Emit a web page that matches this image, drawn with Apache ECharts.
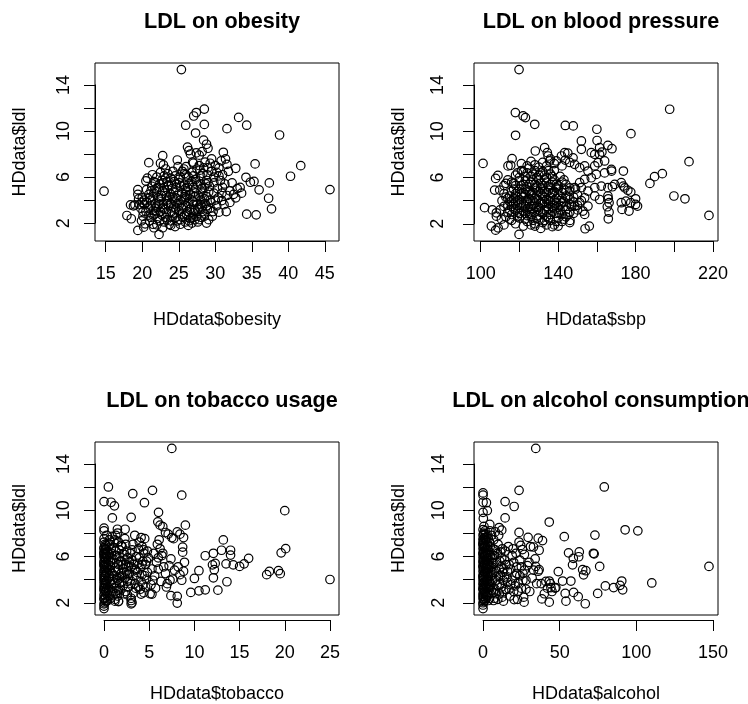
<!DOCTYPE html>
<html>
<head>
<meta charset="utf-8">
<script src="https://cdn.jsdelivr.net/npm/echarts@6/dist/echarts.min.js"></script>
<style>
  html, body { margin: 0; padding: 0; background: #fff; }
  #chart { width: 748px; height: 704px; }
</style>
</head>
<body>
<div id="chart"></div>
<script>
// points: [x, ldl]
var obesityPts = [
  [25.36,15.33],[14.77,4.77],[28.5,11.9],[27.4,11.6],[27.05,11.3],[25.95,10.5],[28.5,10.57],[33.2,11.18],[31.6,10.2],[34.3,10.5],
  [27.3,9.82],[38.8,9.65],[28.4,9.2],[28.8,8.85],[29.0,8.5],[26.2,8.6],[26.4,8.3],[26.6,8.0],[20.9,7.25],[22.8,7.86],
  [22.5,7.2],[22.9,7.05],[23.2,6.7],[35.45,7.14],[32.8,6.76],[41.7,6.99],[40.3,6.07],[45.7,4.91],[37.4,5.49],[36.0,4.89],
  [37.3,4.16],[37.7,3.24],[34.3,2.78],[35.6,2.72],[34.8,5.55],[34.2,5.98],[35.3,5.62],
  [17.9,2.66],[18.5,2.38],[18.4,3.59],[19.0,3.59],[19.4,4.9],[19.4,4.5],[19.5,4.1],[19.4,1.37],[20.2,1.65],
  [20.4,1.94],[22.3,1.02],[22.0,1.86],[23.9,1.8],[25.2,1.9],[27.2,2.3],[28.8,2.0],[29.1,2.3],[18.8,3.5],[19.8,3.3],
  [20.5,3.0],[20.1,2.6],[21.0,2.2],[21.5,1.9],[22.8,1.6],[24.5,1.7],[19.9,2.2],[20.3,3.6],[20.0,4.2],[21.6,1.6],
  [23.7,1.9],[26.3,1.8],[27.6,2.1],
  [20.7,5.9],[20.5,5.66],[21.4,6.2],[22.0,6.0],[23.5,6.3],[24.8,7.48],[24.9,6.9],[25.7,6.7],[26.0,6.2],[25.2,6.0],
  [24.2,6.5],[23.0,6.1],[21.8,5.5],[27.0,7.2],[27.8,7.0],[27.4,8.1],[27.8,7.9],[28.2,8.2],
  [29.5,7.57],[31.1,8.15],[31.4,7.57],[31.6,7.1],[30.2,6.4],[29.8,6.0],[30.7,5.7],[32.3,5.5],[32.0,4.8],[32.5,4.5],
  [33.0,5.0],[33.4,5.1],[31.6,4.4],[30.9,3.96],[30.2,3.5],[30.5,2.95],[31.5,3.0],[29.5,6.5],[30.5,6.8],[31.0,6.2],
  [29.2,5.2],[29.8,4.6],[30.4,4.2],[29.4,3.8],[28.9,3.2],[28.5,2.8],[29.6,2.6],[31.0,5.1],[32.8,4.2],[33.6,4.6],
  [32.0,3.8],[28.6,7.3],[29.0,6.8],[28.3,6.3],[31.8,6.5],[30.8,7.4],
  [21.2,2.5],[22.1,2.4],[22.7,2.7],[23.4,2.3],[24.1,2.6],[24.8,2.2],[25.5,2.5],[26.1,2.7],[26.6,2.4],[27.5,2.6],
  [28.1,2.5],[23.0,2.1],[25.9,2.1],[26.8,2.0],[21.7,2.8],[24.4,2.9],
  [20.8,3.3],[21.5,3.1],[22.0,3.4],[22.5,3.0],[23.1,3.2],[23.6,3.5],[24.0,3.0],[24.6,3.3],[25.0,3.1],[25.6,3.4],
  [26.2,3.0],[26.7,3.3],[27.2,3.1],[27.8,3.4],[28.3,3.0],[21.9,3.0],[23.3,2.9],[25.3,2.8],[27.0,2.9],[28.0,3.6],
  [20.6,3.8],[21.2,4.0],[21.8,3.7],[22.3,3.9],[22.9,3.6],[23.4,4.0],[23.9,3.7],[24.5,3.9],[25.1,3.6],[25.7,4.0],
  [26.3,3.7],[26.9,3.9],[27.5,3.6],[28.0,4.0],[28.6,3.7],[22.6,4.1],[24.2,4.2],[26.0,4.2],[27.3,4.3],
  [20.9,4.5],[21.5,4.3],[22.0,4.7],[22.6,4.4],[23.1,4.6],[23.7,4.3],[24.3,4.7],[24.9,4.4],[25.4,4.6],[26.0,4.8],
  [26.6,4.5],[27.1,4.7],[27.7,4.4],[28.3,4.6],[28.8,4.3],[21.2,4.8],[23.5,4.9],[25.8,4.3],
  [21.3,5.2],[21.9,5.0],[22.4,5.4],[23.0,5.1],[23.6,5.3],[24.1,5.0],[24.7,5.4],[25.3,5.2],[25.9,5.0],[26.4,5.4],
  [27.0,5.1],[27.6,5.3],[28.2,5.0],[28.7,5.4],[26.8,5.6],[24.4,5.6],[22.7,5.7],
  [23.9,5.9],[25.0,5.8],[26.3,6.0],[27.3,5.8],[28.0,6.1],[28.8,5.7],[26.8,6.4],[25.5,6.5],[27.9,6.6],[22.5,6.4],
  [21.5,2.7],[22.4,2.2],[23.2,2.5],[23.9,2.2],[24.6,2.5],[25.2,2.3],[25.8,2.6],[26.4,2.2],[27.0,2.5],[27.8,2.3],
  [28.5,2.6],[21.2,3.5],[21.8,3.3],[22.3,3.6],[22.8,3.3],[23.4,3.7],[24.3,3.4],[24.8,3.7],[25.4,3.3],[26.0,3.5],
  [26.5,3.2],[27.0,3.6],[27.6,3.2],[28.2,3.4],[28.8,3.5],[29.3,3.3],[21.0,4.2],[21.6,4.6],[22.2,4.2],[22.8,4.8],
  [23.3,4.4],[23.9,4.5],[24.6,4.2],[25.2,4.0],[25.9,4.5],[26.5,4.1],[27.1,4.3],[27.9,4.2],[28.5,4.1],[29.1,4.7],
  [21.6,5.6],[22.2,5.1],[22.9,5.5],[23.4,5.6],[24.0,5.3],[24.6,5.1],[25.1,5.5],[25.7,5.3],[26.2,5.1],[26.9,5.3],
  [27.4,5.6],[28.0,5.4],[28.5,5.1],[29.0,5.5],[23.2,5.9],[24.5,6.1],[25.8,6.3],[27.0,6.1],[27.5,6.7],[28.4,6.8],
  [26.0,6.9],[26.9,7.3],[29.3,7.2],[30.0,7.0],[20.3,4.0],[20.6,4.9],[20.1,3.0],[20.9,2.7],[19.6,3.6],[20.0,3.8],
  [29.8,5.5],[30.3,5.0],[30.9,4.6],[31.3,5.4],[29.7,3.0],[30.0,4.0],[31.2,3.6],[29.3,4.0],[28.9,6.2],[30.5,6.1]
];

var sbpPts = [
  [119.8,15.33],[117.9,11.61],[121.9,11.32],[123.1,11.18],[127.9,10.6],[118,9.65],[143.7,10.5],[147.8,10.46],[160,10.17],[152,9.16],
  [160.1,9.2],[165.7,8.78],[167.8,8.49],[177.6,9.79],[101.2,7.22],[116.2,7.63],[115.5,7.05],[114.1,7.0],[128.2,8.29],[108.9,6.18],
  [107.7,5.92],[107.2,4.91],[109.8,4.91],[112,5.3],[102,3.39],[106,3.2],[108.1,2.66],[108.1,2.95],[105.5,1.8],[107.7,1.45],
  [109,1.65],[112,1.9],[110.7,2.4],[119.8,1.08],[217.9,2.72],[207.6,7.37],[205.5,4.16],[199.8,4.4],[193.8,6.33],[189.8,6.07],
  [187.4,5.49],[197.6,11.9],
  [173.7,6.56],[173.7,5.26],[176,4.9],[177.5,4.74],[172.6,3.82],[175,3.96],[177.5,3.82],[180,4.16],[180,3.67],[173,3.24],
  [176.6,3.1],[181,3.53],[165.9,4.16],[166.3,3.82],[165.4,3.47],[166.3,3.0],[165.9,2.43],[167.6,6.56],[168,5.2],[153.9,1.57],
  [156.1,1.8],[146.1,2.29],
  [152,8.44],[157.1,8.15],[161.4,8.58],[161.4,8.0],[162.6,8.2],[158.9,8.0],[143.4,8.15],[141.7,7.86],[143.7,7.51],[139.1,7.43],
  [134.8,7.86],[135.6,7.43],[133,8.58],[134.4,8.15],[147.7,7.7],[148.5,7.14],[151.1,6.85],[153.7,7.0],[155.4,6.56],[158.9,7.0],
  [160.6,7.28],[164,7.43],[167.5,6.7],[164,6.4],[159.7,6.27],[157.1,5.98],[153.7,5.84],[151.1,5.55],[148.5,5.12],[146,4.83],
  [152,5.12],[155.4,4.83],[158.9,5.12],[162.3,5.26],[165.7,5.12],[169.2,5.4],[172.6,5.55],[174.4,5.1],[158.9,4.4],[161.4,4.1],
  [165.7,4.4],[153.7,4.25],[151.1,3.82],[155.4,3.53],[148.5,3.53],[152.8,3.1],[153.7,2.81],
  [116,2.3],[120,2.5],[124,2.2],[126,2.6],[128,2.0],[130,2.4],[132,2.1],[134,2.6],[136,2.3],[138,1.9],
  [140,2.5],[142,2.2],[144,2.6],[118,2.0],[122,1.8],[128,1.8],[134,1.9],[140,1.8],[124,2.7],[146,2.1],
  [131,1.6],[126,1.9],[137,1.75],
  [114,3.0],[116,2.8],[118,3.2],[120,2.9],[122,3.1],[124,3.3],[126,2.8],[128,3.0],[130,3.2],[132,2.9],
  [134,3.1],[136,2.8],[138,3.3],[140,3.0],[142,2.8],[144,3.2],[146,3.0],[148,2.9],[150,3.2],[117,3.3],
  [121,2.7],[129,2.7],[135,3.3],
  [114,3.6],[116,3.5],[118,3.8],[120,3.4],[122,3.7],[124,3.9],[126,3.5],[128,3.8],[130,3.4],[132,3.7],
  [134,3.5],[136,3.9],[138,3.6],[140,3.4],[142,3.8],[144,3.5],[146,3.7],[148,3.9],[150,3.6],[119,3.6],
  [127,3.6],[133,3.9],[139,3.8],
  [114,4.2],[116,4.0],[118,4.4],[120,4.1],[122,4.3],[124,4.0],[126,4.5],[128,4.2],[130,4.0],[132,4.4],
  [134,4.1],[136,4.3],[138,4.0],[140,4.5],[142,4.2],[144,4.4],[146,4.1],[148,4.3],[123,4.5],[131,4.6],
  [137,4.6],
  [116,4.8],[118,4.6],[120,5.0],[122,4.7],[124,4.9],[126,4.6],[128,5.1],[130,4.8],[132,5.0],[134,4.7],
  [136,5.1],[138,4.8],[140,5.0],[142,4.7],[144,4.9],[146,5.1],[112,4.6],
  [116,5.6],[118,5.3],[120,5.7],[122,5.4],[124,5.2],[126,5.6],[128,5.4],[130,5.8],[132,5.3],[134,5.6],
  [136,5.4],[138,5.8],[140,5.3],[142,5.6],[144,5.4],[114,5.8],[113,5.5],
  [118,6.2],[120,6.0],[124,6.4],[126,6.1],[128,6.6],[130,6.2],[132,6.5],[134,6.0],[136,6.3],[138,6.6],
  [141,6.1],[122,6.5],
  [121,7.2],[124,7.0],[126,7.4],[130,6.9],[132,7.3],[134,7.0],[136,7.6],[128,7.1],[138,7.2],[142,7.0],
  [125,6.8],[145,8.1],[146,7.3],
  [115,2.4],[119,2.6],[123,2.4],[127,2.3],[129,2.5],[133,2.3],[135,2.5],[139,2.2],[143,2.4],[115,3.2],
  [119,3.0],[123,2.9],[125,3.1],[127,3.3],[131,3.0],[133,3.2],[137,3.1],[139,2.9],[141,3.2],[145,2.8],
  [115,3.9],[117,3.7],[121,3.8],[123,3.5],[125,3.7],[129,3.5],[131,3.8],[135,3.7],[137,3.4],[141,3.6],
  [143,3.9],[147,3.5],[115,4.4],[117,4.2],[119,4.0],[121,4.4],[125,4.2],[127,4.0],[129,4.4],[133,4.3],
  [135,4.0],[139,4.2],[141,4.0],[145,4.3],[117,5.0],[119,4.8],[121,4.6],[123,5.0],[125,4.8],[127,4.7],
  [129,4.9],[131,5.1],[133,4.8],[135,4.9],[137,4.7],[139,5.1],[143,5.0],[117,5.5],[121,5.3],[123,5.7],
  [125,5.4],[127,5.8],[129,5.2],[131,5.5],[133,5.8],[135,5.2],[137,5.6],[139,5.4],[143,5.8],[119,6.4],
  [123,6.1],[127,6.3],[129,6.0],[131,6.4],[133,6.2],[135,6.6],[137,6.1],[121,6.6],[112,3.5],[111,4.0],
  [113,4.3],[110,3.2],[113,2.6],[150,4.5],[149,5.0],[152,4.0]
];

var tobaccoPts = [
  [7.5,15.33],[0.48,11.9],[0.0,10.6],[0.78,10.54],[1.15,10.22],[3.18,11.3],[5.36,11.6],[4.47,10.5],[8.6,11.17],[0.92,9.15],
  [3.0,9.2],[6.03,9.64],[20.0,9.79],[0,8.23],[0,8.0],[1.48,8.14],[2.33,8.14],[5.95,8.8],[6.2,8.5],[6.5,8.37],
  [6.8,7.85],[7.1,7.7],[7.5,7.4],[7.7,7.3],[8.1,7.9],[8.4,7.7],[9.0,8.5],[8.8,7.4],[8.7,6.55],[8.7,6.1],
  [13.2,7.19],[13.0,6.27],[14.0,6.27],[14.0,5.84],[11.2,5.78],[12.1,6.0],[12.3,5.1],[12.0,4.97],[16.0,5.55],[15.5,5.06],
  [15.0,4.83],[14.3,4.97],[13.5,5.06],[12.2,4.54],[12.1,3.82],[10.5,4.45],[10.0,3.76],[13.6,3.47],[9.6,2.52],[10.5,2.66],
  [11.2,2.75],[12.6,2.72],[8.1,2.17],[7.4,2.23],[18.0,4.1],[18.3,4.39],[19.3,4.45],[19.5,4.19],[19.6,6.04],[20.1,6.41],
  [25.0,3.67],[5.3,2.37],[4.1,2.37],[8.1,1.57],[3.0,1.8],[3.0,1.5],[1.6,1.74],[1.2,1.74],[0,1.08],
  [0,1.3],[0.1,1.6],[0,1.9],[0.2,2.1],[0,2.3],[0.1,2.5],[0,2.7],[0.3,2.9],[0,3.1],[0.1,3.3],
  [0.2,3.5],[0,3.7],[0.1,3.9],[0,4.1],[0.3,4.3],[0,4.5],[0.1,4.7],[0,4.9],[0.2,5.1],[0,5.3],
  [0.1,5.5],[0,5.7],[0.3,5.9],[0,6.1],[0.1,6.3],[0,6.5],[0.2,6.7],[0,7.0],[0.4,1.8],[0.4,3.0],
  [0.5,3.8],[0.4,4.6],[0.5,5.4],[0.4,6.2],[0.6,6.8],[0,2.0],[0,3.4],[0,4.3],[0,5.0],[0,5.9],
  [0,6.4],[0.05,2.9],[0.05,3.6],[0.05,4.8],[0.05,5.6],[0.15,4.0],[0.15,3.0],[0.15,6.0],
  [0.7,2.0],[0.9,2.6],[0.8,3.2],[1.0,3.7],[0.9,4.2],[0.7,4.9],[1.0,5.5],[0.8,6.0],[1.1,6.5],[1.2,7.2],
  [0.9,7.5],[1.3,2.4],[1.4,3.0],[1.5,3.6],[1.3,4.4],[1.6,5.0],[1.4,5.8],[1.7,6.3],[1.6,7.0],[1.5,7.8],
  [1.8,2.8],[1.9,3.4],[2.0,4.0],[2.1,4.6],[1.9,5.3],[2.2,5.9],[2.0,6.6],[2.3,7.3],[2.4,2.6],[2.3,3.8],
  [2.5,4.4],[2.4,5.0],[2.6,5.6],[2.5,6.2],[1.2,1.9],[1.6,1.7],
  [2.7,3.0],[2.9,3.6],[2.8,4.2],[3.0,4.8],[3.1,5.4],[2.9,6.0],[3.2,6.8],[3.3,2.5],[3.4,3.3],[3.6,3.9],
  [3.5,4.5],[3.7,5.1],[3.6,5.7],[3.8,6.4],[3.9,7.0],[4.0,2.8],[4.1,3.5],[4.2,4.1],[4.0,4.7],[4.3,5.3],
  [4.4,6.0],[4.2,6.6],[4.5,7.3],[4.6,3.0],[4.7,3.7],[4.8,4.3],[4.6,5.0],[4.9,5.6],[4.8,6.2],[3.0,2.0],
  [3.1,1.6],[4.4,2.5],[2.6,2.3],[3.4,7.6],[4.1,7.4],
  [5.2,3.2],[5.4,3.6],[5.6,4.0],[5.3,4.6],[5.8,5.2],[6.0,5.6],[5.5,6.0],[6.2,6.4],[6.4,5.8],[6.6,4.8],
  [6.8,4.2],[6.3,3.5],[7.0,3.3],[7.2,4.9],[7.4,5.5],[7.6,3.7],[7.8,4.5],[8.2,4.8],[8.4,4.1],[8.6,3.6],
  [8.8,4.4],[8.9,5.2],[6.1,7.2],[6.5,6.0],[5.9,6.8],[5.7,2.9],[6.9,3.0],[7.3,3.6],[5.1,2.4],[6.0,4.6],
  [0,1.5],[0.2,1.7],[0.1,2.0],[0.3,2.4],[0.2,2.6],[0,2.85],[0.2,3.2],[0.3,3.6],[0,3.9],[0.2,4.2],
  [0.1,4.5],[0.3,4.8],[0,5.15],[0.2,5.5],[0.3,5.7],[0,6.0],[0.2,6.4],[0.1,6.8],[0,7.3],[0.3,7.6],
  [0.6,2.2],[0.5,2.7],[0.7,3.5],[0.6,4.0],[0.6,4.5],[0.5,5.0],[0.7,5.3],[0.6,5.9],[0.8,6.4],[0.6,7.2],
  [1.0,2.3],[1.1,2.9],[1.2,3.4],[1.1,4.0],[1.2,4.7],[1.1,5.2],[1.2,5.8],[1.3,6.2],[1.1,7.0],[1.3,7.6],
  [1.5,2.2],[1.6,2.7],[1.7,3.3],[1.7,3.9],[1.6,4.5],[1.8,5.3],[1.7,5.7],[1.9,6.7],[1.9,4.2],[2.1,3.1],
  [2.2,2.4],[2.1,5.0],[2.3,5.4],[2.4,6.8],[2.6,3.5],[2.7,4.8],[2.8,5.2],[3.0,3.3],[3.2,4.0],[3.3,5.0],
  [3.1,6.3],[3.5,2.9],[3.7,4.3],[3.9,5.6],[3.8,3.0],[4.3,3.2],[4.5,4.0],[4.2,5.0],[4.7,5.3],[4.4,6.3],
  [2.6,4.1],[3.4,4.6],[2.2,4.3],[1.4,3.8]
];

var alcoholPts = [
  [34.4,15.33],[79.1,11.9],[23.5,11.6],[0,11.37],[0,11.17],[2.2,10.5],[0,10.54],[14.4,10.6],[20.3,10.16],[0,9.64],
  [2.8,9.8],[0.2,9.1],[14.4,9.15],[4.4,8.57],[10.5,8.29],[12.2,8.06],[43.2,8.78],[92.7,8.09],[101,8.0],[73.0,7.62],
  [53,7.48],[29.4,7.42],[36,7.34],[38.8,7.13],[36.6,6.27],[23.5,7.86],[23.5,7.0],[24.6,6.7],[25.7,6.33],[32.9,6.56],
  [55.8,6.04],[62.8,6.12],[62.4,5.69],[58.9,5.55],[58.4,4.97],[72,6.0],[72.5,5.95],[65,4.54],[67.1,4.45],[65.6,4.08],
  [76.1,4.83],[49.1,4.37],[51.9,3.53],[57.3,3.53],[90.5,3.53],[89.4,3.15],[91.1,2.75],[85.2,2.95],[79.8,3.1],[110.1,3.36],
  [147.4,4.83],[74.8,2.43],[53.6,2.43],[59.1,2.52],[62.1,2.14],[54.1,1.74],[66.7,1.51],[38.4,1.94],[43.2,1.65],[26.8,1.65],
  [20.3,1.88],[13.3,1.74],[43.2,3.53],[44.3,2.95],[47.5,2.95],[34.4,4.83],[36.6,4.54],[0,1.08],
  [0,1.4],[0.5,1.7],[0,2.0],[0.3,2.2],[0,2.4],[1,2.6],[0,2.8],[0.4,3.0],[0,3.2],[0.8,3.4],
  [0,3.6],[0.2,3.8],[0,4.0],[1.2,4.2],[0,4.4],[0.4,4.6],[0,4.8],[0.9,5.0],[0,5.2],[0.3,5.4],
  [0,5.6],[1.1,5.8],[0,6.0],[0.5,6.2],[0,6.4],[0.8,6.6],[0,6.8],[0.3,7.0],[0,7.2],[1.0,7.4],
  [0,7.6],[0.4,7.8],[0,8.1],[1.5,2.0],[1.8,3.1],[2.0,3.9],[1.7,4.7],[2.2,5.5],[1.9,6.3],[2.3,7.1],
  [2.6,2.5],[2.8,3.5],[3.0,4.3],[2.7,5.1],[3.1,5.9],[2.9,6.7],[3.4,1.8],[3.5,2.9],[3.7,3.8],[3.6,4.6],
  [3.9,5.3],[4.0,6.1],[4.2,7.0],[0,2.9],[0,3.9],[0,4.9],[0,5.9],[0,6.9],[1.3,8.0],[0.6,8.4],
  [4.6,2.4],[5,3.2],[5.4,4.0],[5.8,4.8],[6.2,5.6],[6.6,6.4],[7,7.2],[7.4,2.0],[7.8,2.8],[8.2,3.6],
  [8.6,4.4],[9,5.2],[9.4,6.0],[9.8,6.8],[10.2,7.6],[10.6,2.4],[11,3.2],[11.4,4.0],[11.8,4.8],[12.2,5.6],
  [12.6,6.4],[13,3.6],[13.5,4.6],[14,5.4],[14.5,6.2],[15,2.8],[15.5,3.8],[6.8,1.8],[9.6,1.9],[12.5,2.1],
  [8,7.9],[5.6,7.6],[4.5,8.0],
  [16,4.4],[17,5.0],[18,3.2],[19,5.8],[20,2.6],[21,4.0],[22,4.8],[23,3.4],[24,5.4],[25,2.9],
  [26,4.2],[27,5.9],[28,3.6],[29,4.9],[30,5.2],[32,3.8],[33,4.5],[34,5.5],[35,3.3],[17.5,2.2],
  [19.5,6.4],[22.5,1.9],[26.5,2.1],[30.5,2.6],[36,4.4],[38,3.3],[40,2.4],[41,3.5],[42,2.9],[44,3.3],
  [45,2.6],[47,2.9],[31,6.6],[16.5,6.6],[21.5,6.0],
  [0,1.6],[0.3,1.9],[0.1,2.2],[0.6,2.5],[0.2,2.75],[0.5,3.1],[0.1,3.35],[0.6,3.7],[0.2,4.1],[0.7,4.4],
  [0.2,4.7],[0.5,5.1],[0.1,5.3],[0.7,5.7],[0.2,6.1],[0.6,6.5],[0.1,6.7],[0.5,7.1],[0.2,7.3],[0.7,7.7],
  [1.2,1.8],[1.4,2.4],[1.3,3.0],[1.5,3.6],[1.4,4.3],[1.3,4.9],[1.6,5.4],[1.4,6.0],[1.5,6.6],[1.4,7.2],
  [1.8,7.7],[2.3,2.2],[2.5,3.0],[2.4,3.6],[2.2,4.4],[2.5,4.9],[2.4,6.0],[2.6,6.5],[2.5,7.5],[3.3,2.3],
  [3.2,3.3],[3.3,4.0],[3.4,5.0],[3.3,5.6],[3.4,6.3],[3.5,7.3],[4.2,2.0],[4.5,3.0],[4.3,3.5],[4.6,4.4],
  [4.4,4.9],[4.8,5.8],[4.7,6.6],[5.5,2.7],[6.0,3.6],[6.5,4.3],[7.0,5.1],[7.5,5.8],[8.0,6.3],[5.8,5.2],
  [6.9,2.5],[8.5,2.4],[9.2,3.2],[10,4.0],[10.5,4.6],[11,5.3],[11.5,6.1],[12,3.0],[12.8,4.3],[13.5,2.6],
  [14,3.9],[15,5.0],[16,3.4],[17,2.8],[18,4.6],[19,3.6],[20,5.2],[21,3.1],[22,4.2],[23,2.6],
  [24,4.0],[25,4.8],[26,3.6],[27,4.5],[28,2.8]
];

// tick positions and the ones that carry a label
var ldlTicks = [2, 4, 6, 8, 10, 12, 14];
var ldlLabels = [2, 6, 10, 14];
var obesityTicks = [15, 20, 25, 30, 35, 40, 45];
var sbpTicks = [100, 120, 140, 160, 180, 200, 220];
var sbpLabels = [100, 140, 180, 220];
var tobaccoTicks = [0, 5, 10, 15, 20, 25];
var alcoholTicks = [0, 50, 100, 150];

var titles = ['LDL on obesity', 'LDL on blood pressure', 'LDL on tobacco usage', 'LDL on alcohol consumption'];
var xNames = ['HDdata$obesity', 'HDdata$sbp', 'HDdata$tobacco', 'HDdata$alcohol'];

var FONT = 'Liberation Sans, Arial, Helvetica, sans-serif';

var panels = [
  { pts: obesityPts, xt: obesityTicks, xl: obesityTicks, ym: 22, box: { left: 95, top: 63, width: 244, height: 178 } },
  { pts: sbpPts, xt: sbpTicks, xl: sbpLabels, ym: 27, box: { left: 474, top: 63, width: 244, height: 178 } },
  { pts: tobaccoPts, xt: tobaccoTicks, xl: tobaccoTicks, ym: 22, box: { left: 95, top: 442, width: 244, height: 178 } },
  { pts: alcoholPts, xt: alcoholTicks, xl: alcoholTicks, ym: 26, box: { left: 474, top: 442, width: 244, height: 178 } }
];

// R style range: data range widened by 4% on each side
function rRange(vals) {
  var lo = Math.min.apply(null, vals), hi = Math.max.apply(null, vals);
  var pad = (hi - lo) * 0.04;
  return [lo - pad, hi + pad];
}

var chart = echarts.init(document.getElementById('chart'));
var option = { animation: false, title: [], grid: [], xAxis: [], yAxis: [], series: [] };

panels.forEach(function (p, i) {
  var xr = rRange(p.pts.map(function (d) { return d[0]; }));
  var yr = rRange(p.pts.map(function (d) { return d[1]; }));
  var b = p.box;
  var x0 = b.left + (p.xt[0] - xr[0]) / (xr[1] - xr[0]) * b.width;
  var x1 = b.left + (p.xt[p.xt.length - 1] - xr[0]) / (xr[1] - xr[0]) * b.width;
  var yTop = b.top + (yr[1] - ldlTicks[ldlTicks.length - 1]) / (yr[1] - yr[0]) * b.height;
  var yBot = b.top + (yr[1] - ldlTicks[0]) / (yr[1] - yr[0]) * b.height;

  option.title.push({
    text: titles[i],
    left: b.left + b.width / 2,
    top: b.top - 57,
    textAlign: 'center',
    textStyle: { fontFamily: FONT, fontSize: 21.6, fontWeight: 'bold', color: '#000' }
  });

  // plot box with the data
  option.grid.push({ left: b.left, top: b.top, width: b.width, height: b.height,
    show: true, borderColor: '#000', borderWidth: 1, backgroundColor: 'transparent' });
  // grid spanning only the tick range, carries the R style axes
  option.grid.push({ left: x0, top: yTop, width: x1 - x0, height: yBot - yTop, show: false });

  option.xAxis.push({
    gridIndex: 2 * i, type: 'value', min: xr[0], max: xr[1],
    axisLine: { show: false }, axisTick: { show: false }, axisLabel: { show: false }, splitLine: { show: false },
    name: xNames[i], nameLocation: 'middle', nameGap: 70,
    nameTextStyle: { fontFamily: FONT, fontSize: 18, color: '#000' }
  });
  option.yAxis.push({
    gridIndex: 2 * i, type: 'value', min: yr[0], max: yr[1],
    axisLine: { show: false }, axisTick: { show: false }, axisLabel: { show: false }, splitLine: { show: false },
    name: 'HDdata$ldl', nameLocation: 'middle', nameGap: 66,
    nameTextStyle: { fontFamily: FONT, fontSize: 18, color: '#000' }
  });

  var xl = p.xl;
  option.xAxis.push({
    gridIndex: 2 * i + 1, type: 'value', position: 'bottom',
    min: p.xt[0], max: p.xt[p.xt.length - 1], interval: p.xt[1] - p.xt[0],
    offset: b.top + b.height - yBot,
    axisLine: { show: true, onZero: false, lineStyle: { color: '#000', width: 1 } },
    axisTick: { show: true, length: 11, lineStyle: { color: '#000', width: 1 } },
    axisLabel: { margin: 24, fontFamily: FONT, fontSize: 18, color: '#000',
      formatter: function (v) { return xl.indexOf(v) >= 0 ? String(v) : ''; } },
    splitLine: { show: false }
  });
  option.yAxis.push({
    gridIndex: 2 * i + 1, type: 'value', position: 'left',
    min: ldlTicks[0], max: ldlTicks[ldlTicks.length - 1], interval: ldlTicks[1] - ldlTicks[0],
    offset: x0 - b.left,
    axisLine: { show: true, onZero: false, lineStyle: { color: '#000', width: 1 } },
    axisTick: { show: true, length: 11, lineStyle: { color: '#000', width: 1 } },
    axisLabel: { margin: p.ym, rotate: 90, fontFamily: FONT, fontSize: 18, color: '#000',
      formatter: function (v) { return ldlLabels.indexOf(v) >= 0 ? String(v) : ''; } },
    splitLine: { show: false }
  });

  option.series.push({
    type: 'scatter', xAxisIndex: 2 * i, yAxisIndex: 2 * i,
    data: p.pts, symbol: 'circle', symbolSize: 8.5, silent: true,
    itemStyle: { color: 'rgba(0,0,0,0)', borderColor: '#000', borderWidth: 1.2, opacity: 1 }
  });
});

chart.setOption(option);
</script>
</body>
</html>
